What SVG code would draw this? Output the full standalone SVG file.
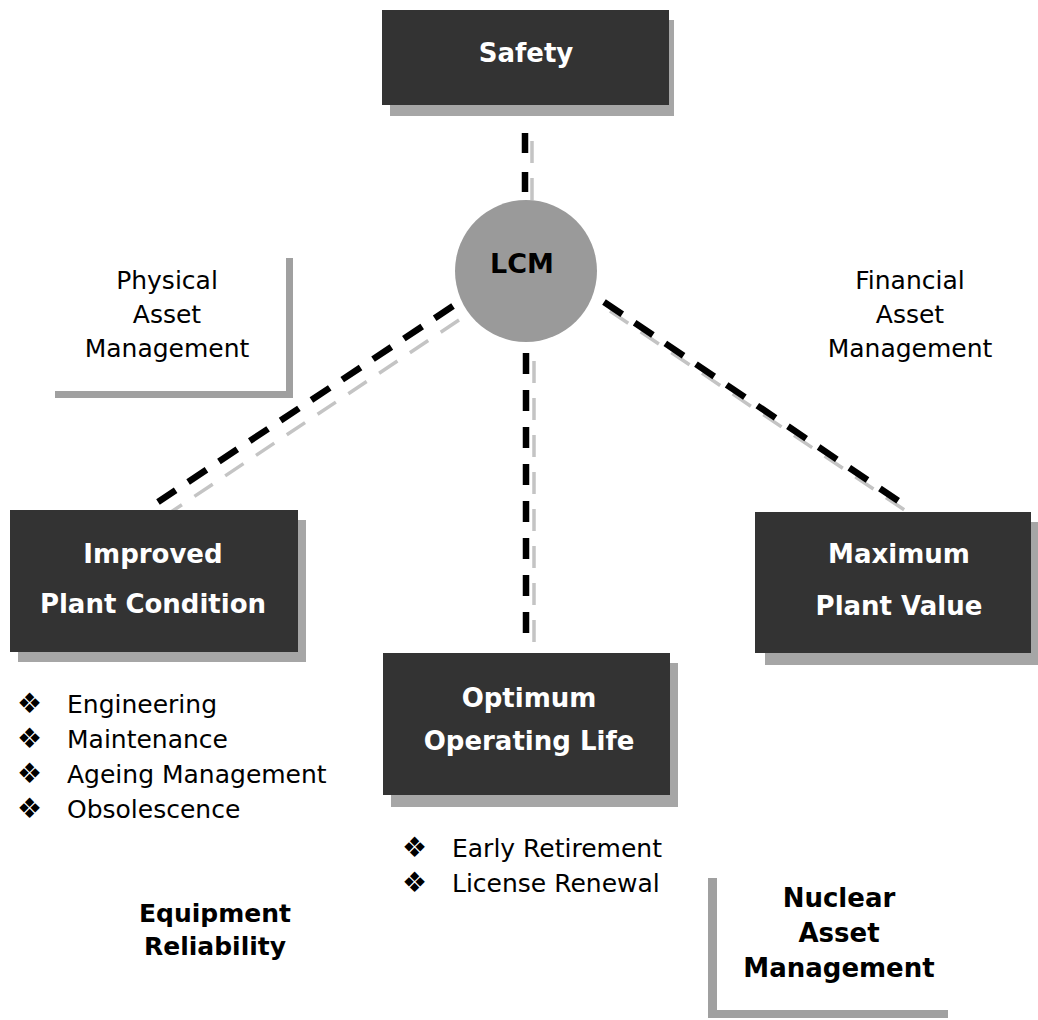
<svg xmlns="http://www.w3.org/2000/svg" width="1038" height="1020" viewBox="0 0 1038 1020">
<style>
.box{fill:#333333}
.shadow{fill:#a6a6a6}
.bracket{fill:#a0a0a0}
.boxtext{font-family:"DejaVu Sans","Liberation Sans",sans-serif;font-weight:bold;font-size:26px;fill:#ffffff;text-anchor:middle}
.label{font-family:"DejaVu Sans","Liberation Sans",sans-serif;font-size:25px;fill:#000000;text-anchor:middle}
.blabel{font-family:"DejaVu Sans","Liberation Sans",sans-serif;font-weight:bold;font-size:25px;fill:#000000;text-anchor:middle}
.item{font-family:"DejaVu Sans","Liberation Sans",sans-serif;font-size:25px;fill:#000000}
.bullet{font-family:"DejaVu Sans","Liberation Sans",sans-serif;font-size:28px;fill:#000000}
.dash{stroke:#000000;stroke-width:6.5;fill:none;stroke-dasharray:22 15}
.dashsh{stroke:#c4c4c4;stroke-width:3.5;fill:none;stroke-dasharray:22 15}
</style>
<rect width="1038" height="1020" fill="#ffffff"/>

<g id="connectors">
  <line class="dashsh" x1="532" y1="141" x2="532" y2="204"/>
  <line class="dashsh" x1="534" y1="361" x2="534" y2="655"/>
  <line class="dashsh" x1="459" y1="320" x2="165" y2="516"/>
  <line class="dashsh" x1="610" y1="311" x2="906" y2="511"/>
  <line class="dash" x1="525" y1="133" x2="525" y2="198" style="stroke-dasharray:20 19"/>
  <line class="dash" x1="526" y1="353" x2="526" y2="648" style="stroke-dasharray:21 16"/>
  <line class="dash" x1="453" y1="306" x2="158" y2="502"/>
  <line class="dash" x1="604" y1="302" x2="900" y2="502"/>
</g>

<g id="safety">
  <rect class="shadow" x="390" y="20" width="284" height="96"/>
  <rect class="box" x="382" y="10" width="287" height="95"/>
  <text class="boxtext" x="526" y="62">Safety</text>
</g>

<g id="lcm">
  <circle cx="526" cy="271" r="71" fill="#9a9a9a"/>
  <text class="boxtext" x="522" y="273" style="fill:#000000;font-size:27px">LCM</text>
</g>

<g id="physical-asset-management">
  <rect class="bracket" x="286" y="258" width="7" height="140"/>
  <rect class="bracket" x="55" y="391" width="238" height="7"/>
  <text class="label" x="167" y="289">Physical</text>
  <text class="label" x="167" y="323">Asset</text>
  <text class="label" x="167" y="357">Management</text>
</g>

<g id="financial-asset-management">
  <text class="label" x="910" y="289">Financial</text>
  <text class="label" x="910" y="323">Asset</text>
  <text class="label" x="910" y="357">Management</text>
</g>

<g id="improved-plant-condition">
  <rect class="shadow" x="18" y="520" width="288" height="142"/>
  <rect class="box" x="10" y="510" width="288" height="142"/>
  <text class="boxtext" x="153" y="563">Improved</text>
  <text class="boxtext" x="153" y="613">Plant Condition</text>
</g>

<g id="optimum-operating-life">
  <rect class="shadow" x="391" y="663" width="287" height="144"/>
  <rect class="box" x="383" y="653" width="287" height="142"/>
  <text class="boxtext" x="529" y="707">Optimum</text>
  <text class="boxtext" x="529" y="750">Operating Life</text>
</g>

<g id="maximum-plant-value">
  <rect class="shadow" x="765" y="522" width="273" height="143"/>
  <rect class="box" x="755" y="512" width="276" height="141"/>
  <text class="boxtext" x="899" y="563">Maximum</text>
  <text class="boxtext" x="899" y="615">Plant Value</text>
</g>

<g id="plant-condition-items">
  <text class="bullet" x="17" y="713">❖</text>
  <text class="item" x="67" y="713">Engineering</text>
  <text class="bullet" x="17" y="748">❖</text>
  <text class="item" x="67" y="748">Maintenance</text>
  <text class="bullet" x="17" y="783">❖</text>
  <text class="item" x="67" y="783">Ageing Management</text>
  <text class="bullet" x="17" y="818">❖</text>
  <text class="item" x="67" y="818">Obsolescence</text>
</g>

<g id="operating-life-items">
  <text class="bullet" x="402" y="857">❖</text>
  <text class="item" x="452" y="857">Early Retirement</text>
  <text class="bullet" x="402" y="892">❖</text>
  <text class="item" x="452" y="892">License Renewal</text>
</g>

<g id="equipment-reliability">
  <text class="blabel" x="215" y="922">Equipment</text>
  <text class="blabel" x="215" y="955">Reliability</text>
</g>

<g id="nuclear-asset-management">
  <rect class="bracket" x="708" y="878" width="9" height="140"/>
  <rect class="bracket" x="708" y="1010" width="240" height="8"/>
  <text class="blabel" x="839" y="907" style="font-size:26px">Nuclear</text>
  <text class="blabel" x="839" y="942" style="font-size:26px">Asset</text>
  <text class="blabel" x="839" y="977" style="font-size:26px">Management</text>
</g>
</svg>
